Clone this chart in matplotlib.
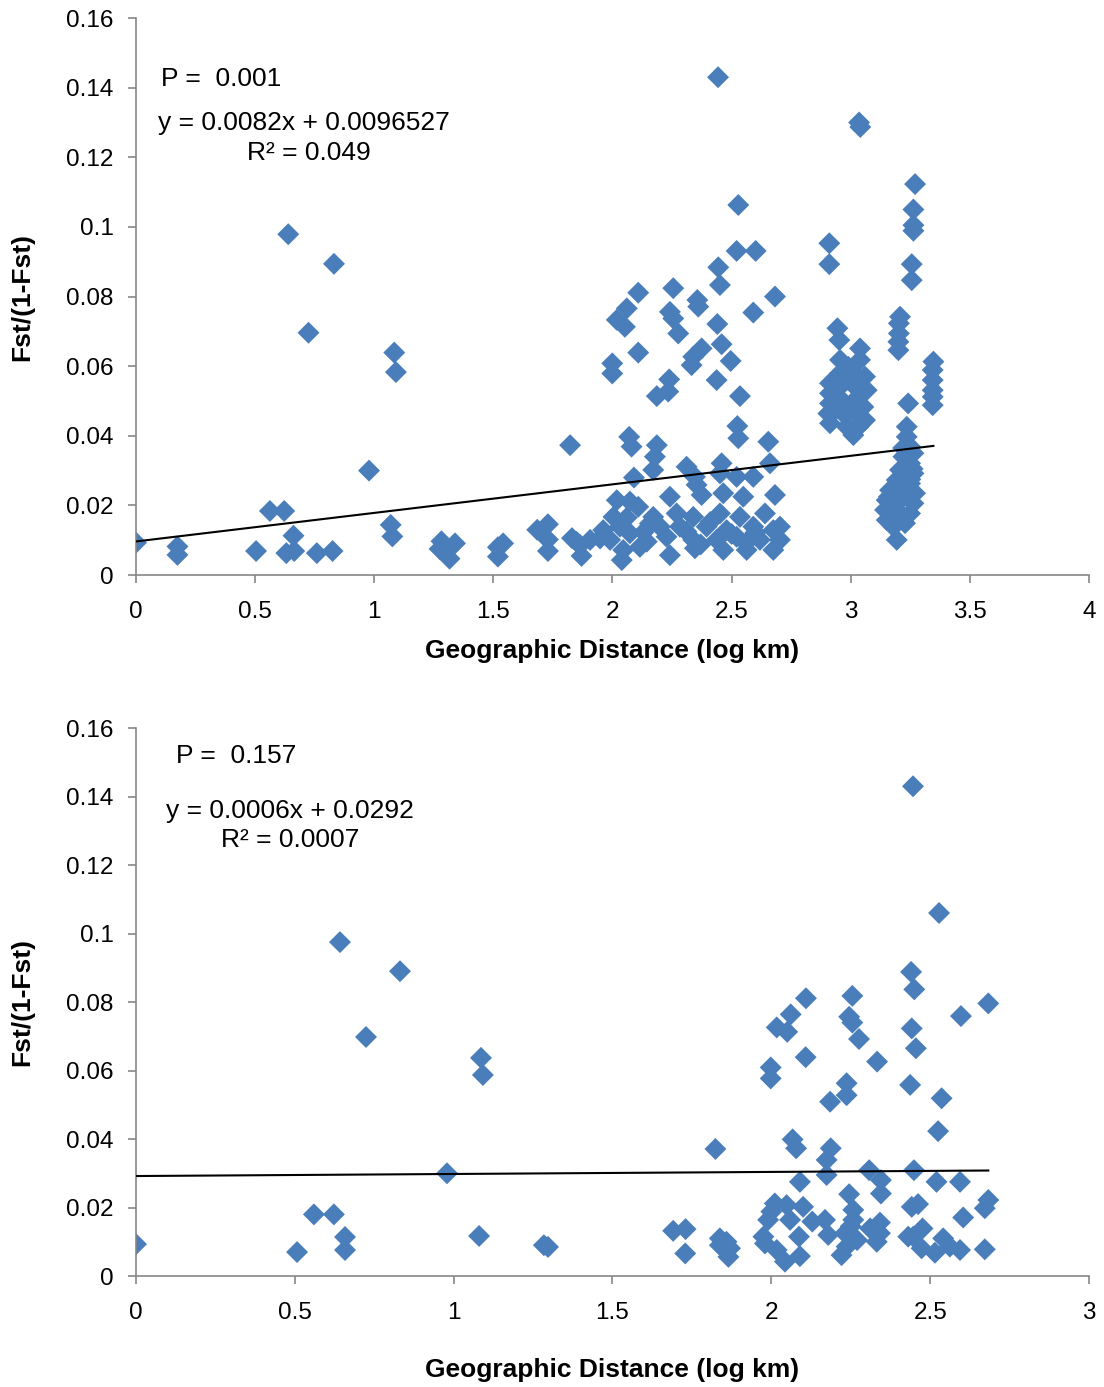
import numpy as np
import matplotlib
matplotlib.use('Agg')
import matplotlib.pyplot as plt

plt.rcParams['font.family'] = ['Liberation Sans', 'DejaVu Sans']

# ---- data: top panel (all pairs) ----
top_x = [0, 0.174, 0.174, 0.504, 0.562, 0.622, 0.661, 0.631, 0.664, 0.759, 0.825,
         0.639, 0.831, 0.724, 1.084, 1.091, 0.978, 1.069, 1.076, 1.282, 1.294, 1.316,
         1.339, 1.274, 1.519, 1.541, 1.519, 1.684, 1.729, 1.729, 1.729, 1.822, 1.83,
         1.85, 1.864, 1.87, 1.906,
         2.443, 2.528, 2.521, 2.601, 2.444, 2.451, 2.108, 2.255, 2.682, 2.06, 2.356,
         2.36, 2.241, 2.255, 2.591, 2.018, 2.052, 2.44, 2.276, 2.458, 2.108, 2.374,
         2.339, 2.332, 2.496, 1.999, 1.999, 2.437, 2.238, 2.234, 2.186, 2.535, 2.524,
         2.528, 2.07, 2.08, 2.186, 2.178, 2.171, 2.09, 2.311, 2.458, 2.654, 2.661,
         2.346, 2.521, 2.591, 2.353, 2.451, 2.018, 2.073, 2.241, 2.374, 2.682, 2.465,
         2.549, 2.004, 2.108, 2.171, 2.269, 2.339, 2.451, 2.535, 2.64, 2.703, 1.961,
         2.031, 2.199, 2.283, 2.395, 2.479, 2.591, 2.675, 2.703, 1.99, 2.073, 2.144,
         2.227, 2.339, 2.437, 2.521, 2.619, 2.039, 2.045, 2.115, 2.241, 2.346, 2.465,
         2.563, 2.675, 1.948, 2.157, 2.31, 2.41, 2.5, 2.6, 2.13, 2.37, 2.56, 2.06,
         3.27, 3.263, 3.263, 3.263, 3.256, 3.256, 2.91, 2.91, 3.035, 3.04,
         3.207, 3.202, 3.202, 3.2, 3.2, 2.944, 2.952, 3.039, 3.039, 2.955,
         2.913, 2.913, 2.913, 2.906, 2.913, 2.955, 2.955, 2.962, 2.969, 2.983, 3.011,
         3.011, 3.018, 3.018, 3.018, 3.046, 3.053, 3.06, 3.06, 3.067, 2.983, 2.99,
         2.941, 2.934, 3.033, 2.99, 3.241,
         3.347, 3.344, 3.344, 3.344, 3.344, 3.344,
         3.235, 3.235, 3.249, 3.263, 3.221, 3.249, 3.207, 3.263, 3.193, 3.249, 3.165,
         3.221, 3.27, 3.151, 3.207, 3.263, 3.144, 3.193, 3.249, 3.151, 3.207, 3.179,
         3.193, 3.228, 3.25, 3.22, 3.18, 3.16, 3.24, 3.2, 3.26, 3.17]
top_y = [0.0093, 0.0082, 0.0058, 0.0069, 0.0184, 0.0184, 0.0113, 0.0063, 0.0069, 0.0063, 0.0069,
         0.0979, 0.0894, 0.0696, 0.0639, 0.0583, 0.030, 0.0144, 0.0111, 0.0097, 0.008, 0.0047,
         0.0091, 0.0075, 0.0053, 0.0091, 0.008, 0.013, 0.0146, 0.0102, 0.0069, 0.0373, 0.0106,
         0.0095, 0.0086, 0.0055, 0.0101,
         0.143, 0.1063, 0.0931, 0.0931, 0.0884, 0.0833, 0.0811, 0.0824, 0.080, 0.0766, 0.079,
         0.0771, 0.0756, 0.0737, 0.0754, 0.0733, 0.0713, 0.0721, 0.0694, 0.0663, 0.0639, 0.0651,
         0.0627, 0.0603, 0.0615, 0.0608, 0.0579, 0.056, 0.0562, 0.0527, 0.0514, 0.0514, 0.0428,
         0.0393, 0.0397, 0.0369, 0.0373, 0.034, 0.0302, 0.028, 0.0311, 0.0321, 0.0383, 0.0321,
         0.0282, 0.0282, 0.0282, 0.0259, 0.0292, 0.0215, 0.0211, 0.0225, 0.023, 0.023, 0.0235,
         0.0225, 0.0167, 0.0196, 0.0167, 0.0177, 0.0167, 0.0177, 0.0167, 0.0177, 0.0139, 0.0129,
         0.0139, 0.0139, 0.0139, 0.0139, 0.0129, 0.0139, 0.0129, 0.0101, 0.0101, 0.012, 0.0096,
         0.011, 0.0101, 0.0101, 0.011, 0.0101, 0.0043, 0.0072, 0.0081, 0.0057, 0.0077, 0.0072,
         0.0072, 0.0072, 0.0105, 0.0148, 0.0125, 0.0152, 0.0118, 0.0122, 0.0123, 0.0088, 0.0092, 0.0165,
         0.1123, 0.105, 0.1005, 0.0989, 0.0893, 0.0847, 0.0953, 0.0893, 0.1300, 0.1287,
         0.0742, 0.0723, 0.0694, 0.067, 0.0646, 0.0709, 0.0675, 0.0651, 0.0618, 0.0618,
         0.0551, 0.0522, 0.0493, 0.0464, 0.0436, 0.058, 0.0541, 0.0503, 0.0464, 0.0426, 0.0402,
         0.058, 0.0541, 0.0503, 0.0464, 0.0522, 0.0483, 0.0445, 0.057, 0.0531, 0.056, 0.0483,
         0.0512, 0.0474, 0.0426, 0.0598, 0.0493,
         0.0613, 0.0589, 0.056, 0.0531, 0.0512, 0.0488,
         0.0426, 0.0397, 0.0369, 0.035, 0.034, 0.0321, 0.0302, 0.0292, 0.0273, 0.0263, 0.0244,
         0.0244, 0.0235, 0.0215, 0.0215, 0.0206, 0.0187, 0.0187, 0.0177, 0.0158, 0.0158, 0.0139,
         0.0101, 0.0149, 0.0275, 0.0365, 0.0195, 0.0225, 0.0225, 0.0255, 0.0305, 0.0175]

# ---- data: bottom panel ----
bot_x = [0, 0.507, 0.56, 0.623, 0.658, 0.658, 0.642, 0.724, 0.831, 0.979, 1.086, 1.092,
         1.08, 1.284, 1.297,
         2.446, 2.528, 2.44, 2.45, 2.109, 2.255, 2.683, 2.061, 2.597, 2.017, 2.05, 2.245,
         2.255, 2.442, 2.276, 2.455, 2.108, 2.333, 1.998, 1.998, 2.437, 2.237, 2.237,
         2.185, 2.536, 2.525, 1.824, 2.067, 2.078, 2.187, 2.174, 2.174, 2.308, 2.345,
         2.449, 2.09, 2.52, 2.594, 2.345, 2.245, 2.442, 2.462, 2.683, 2.672, 2.604,
         2.011, 2.048, 2.1, 1.99, 2.059, 2.129, 2.169, 2.258, 2.258, 2.342, 2.311, 2.232,
         2.179, 2.087, 1.975, 1.98, 2.017, 2.043, 2.09, 2.221, 2.237, 2.332, 2.431, 2.476,
         2.473, 2.541, 2.515, 2.562, 2.594, 2.672, 2.447, 1.691, 1.73, 1.729, 1.838,
         1.859, 1.865, 1.838, 1.87, 2.0, 2.342, 2.25, 2.27]
bot_y = [0.0093, 0.007, 0.018, 0.018, 0.0114, 0.0076, 0.0975, 0.0698, 0.089, 0.030, 0.0637,
         0.0587, 0.0117, 0.009, 0.0085,
         0.143, 0.106, 0.0888, 0.0837, 0.0811, 0.0818, 0.0796, 0.0764, 0.0759, 0.0726, 0.0713,
         0.0757, 0.074, 0.0723, 0.0692, 0.0665, 0.0639, 0.0626, 0.0609, 0.0577, 0.0558, 0.0563,
         0.0528, 0.0509, 0.0519, 0.0423, 0.0371, 0.0399, 0.0373, 0.0373, 0.0339, 0.0295, 0.0309,
         0.028, 0.0309, 0.0275, 0.0275, 0.0275, 0.0241, 0.0239, 0.0202, 0.021, 0.0222, 0.0198,
         0.0171, 0.0212, 0.0207, 0.0202, 0.0164, 0.0164, 0.0159, 0.0164, 0.0193, 0.0164, 0.0156,
         0.0139, 0.0125, 0.012, 0.0115, 0.0115, 0.0095, 0.0076, 0.0042, 0.0058, 0.0061, 0.0086,
         0.010, 0.0115, 0.0139, 0.0081, 0.011, 0.0068, 0.0086, 0.0076, 0.0078, 0.0115, 0.0132,
         0.0137, 0.0066, 0.011, 0.010, 0.0056, 0.009, 0.0081, 0.0188, 0.0125, 0.0145, 0.0105]

# trend lines as reported on the chart
top_slope, top_icpt = 0.0082, 0.0096527
bot_slope, bot_icpt = 0.0006, 0.0292

y_ticks = [0, 0.02, 0.04, 0.06, 0.08, 0.1, 0.12, 0.14, 0.16]
y_ticklabels = ['0', '0.02', '0.04', '0.06', '0.08', '0.1', '0.12', '0.14', '0.16']
top_xticks = [0, 0.5, 1, 1.5, 2, 2.5, 3, 3.5, 4]
top_xticklabels = ['0', '0.5', '1', '1.5', '2', '2.5', '3', '3.5', '4']
bot_xticks = [0, 0.5, 1, 1.5, 2, 2.5, 3]
bot_xticklabels = ['0', '0.5', '1', '1.5', '2', '2.5', '3']

blue = '#4A7EBB'
grey = '#868686'

fig = plt.figure(figsize=(11.04, 13.87), dpi=100)
ax1 = fig.add_axes([0.1232, 0.5854, 0.8632, 0.4016])
ax2 = fig.add_axes([0.1232, 0.0800, 0.8632, 0.3951])


def style_axis(ax, xmax, xticks, xticklabels, xlabelpad):
    ax.set_xlim(0, xmax)
    ax.set_ylim(0, 0.16)
    ax.set_xticks(xticks)
    ax.set_xticklabels(xticklabels)
    ax.set_yticks(y_ticks)
    ax.set_yticklabels(y_ticklabels)
    for s in ['top', 'right']:
        ax.spines[s].set_visible(False)
    for s in ['left', 'bottom']:
        ax.spines[s].set_color(grey)
        ax.spines[s].set_linewidth(1.2)
    ax.tick_params(axis='both', colors=grey, labelcolor='black', labelsize=17.5,
                   length=6, width=1.2, direction='out')
    ax.tick_params(axis='x', pad=13)
    ax.tick_params(axis='y', pad=10)
    ax.set_xlabel('Geographic Distance (log km)', fontsize=19, fontweight='bold',
                  labelpad=xlabelpad)
    ax.set_ylabel('Fst/(1-Fst)', fontsize=19, fontweight='bold', labelpad=23)


# top panel
ax1.scatter(top_x, top_y, marker='D', s=125, color=blue, edgecolors='none', zorder=2)
xs = np.array([min(top_x), max(top_x)])
ax1.plot(xs, top_slope * xs + top_icpt, color='black', lw=1.5, zorder=3)
style_axis(ax1, 4, top_xticks, top_xticklabels, 11)
ax1.text(0.026, 0.8905, 'P =  0.001', transform=ax1.transAxes, fontsize=19, va='center')
ax1.text(0.0231, 0.812, 'y = 0.0082x + 0.0096527', transform=ax1.transAxes, fontsize=19, va='center')
ax1.text(0.1165, 0.7575, 'R² = 0.049', transform=ax1.transAxes, fontsize=19, va='center')

# bottom panel
ax2.scatter(bot_x, bot_y, marker='D', s=125, color=blue, edgecolors='none', zorder=2)
xs = np.array([min(bot_x), max(bot_x)])
ax2.plot(xs, bot_slope * xs + bot_icpt, color='black', lw=1.5, zorder=3)
style_axis(ax2, 3, bot_xticks, bot_xticklabels, 24)
ax2.text(0.042, 0.9489, 'P =  0.157', transform=ax2.transAxes, fontsize=19, va='center')
ax2.text(0.0315, 0.849, 'y = 0.0006x + 0.0292', transform=ax2.transAxes, fontsize=19, va='center')
ax2.text(0.0892, 0.796, 'R² = 0.0007', transform=ax2.transAxes, fontsize=19, va='center')

fig.savefig('out.png', dpi=100)
